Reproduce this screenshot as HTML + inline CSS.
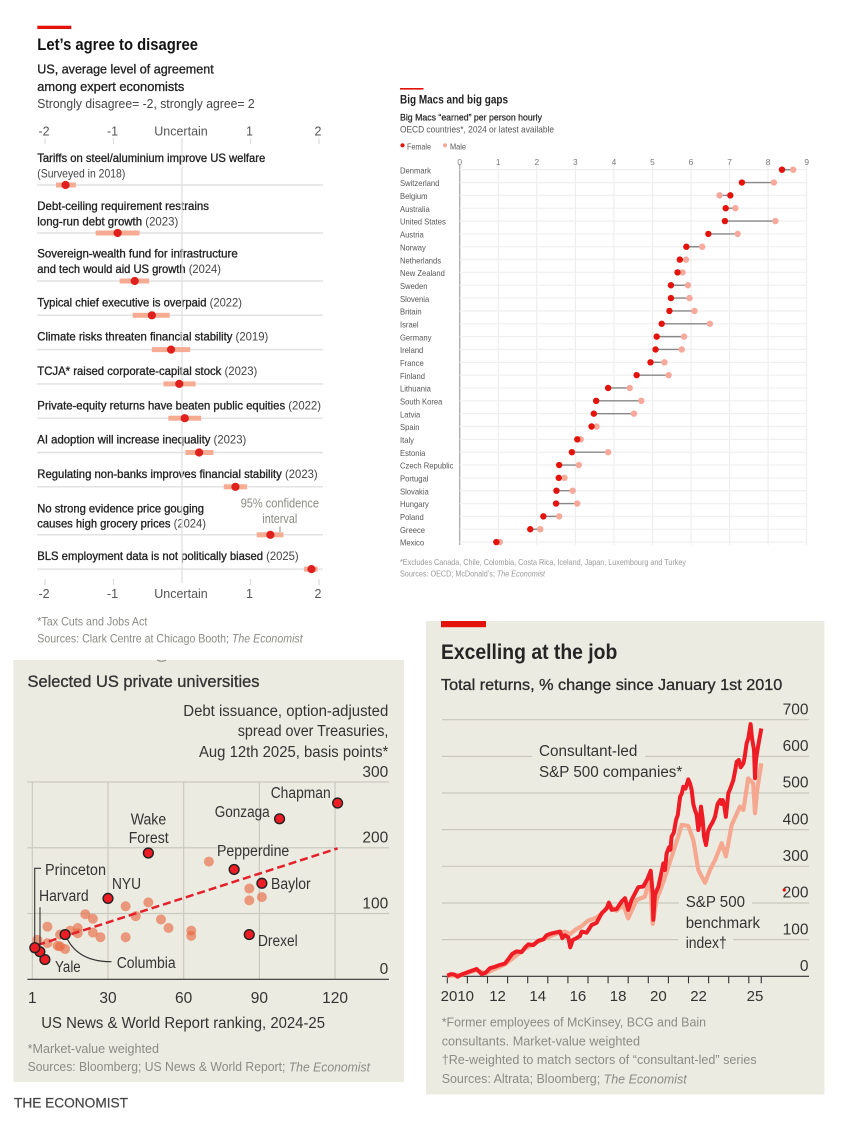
<!DOCTYPE html>
<html lang="en">
<head>
<meta charset="utf-8">
<title>Economist charts</title>
<style>
html,body{margin:0;padding:0;background:#fff;}
svg{display:block;position:absolute;left:0;top:0;}
text{font-family:"Liberation Sans",sans-serif;dominant-baseline:central;fill:#333;transform:translateY(.7px);}
.m{stroke:#222;stroke-width:.32px;fill:#222;}
.y{fill:#444;stroke:none;}
.r{font-size:12px;}
.g{fill:#8b8b85;}
.h{fill:#333;font-size:15.5px;}
</style>
</head>
<body>
<svg id="root" width="850" height="1122" viewBox="0 0 850 1122">
<rect x="0" y="0" width="850" height="1122" fill="#ffffff"/>

<!-- CHART 1 -->
<g id="agree">
<rect x="37.3" y="25.7" width="34" height="3.3" fill="#e3120b"/>
<text x="37.3" y="44.3" font-size="16.5" font-weight="bold" style="fill:#121212" textLength="160.7" lengthAdjust="spacingAndGlyphs">Let’s agree to disagree</text>
<text class="m" x="37.3" y="68.3" font-size="13" textLength="176.4" lengthAdjust="spacingAndGlyphs">US, average level of agreement</text>
<text class="m" x="37.3" y="86" font-size="13" textLength="147" lengthAdjust="spacingAndGlyphs">among expert economists</text>
<text x="37.3" y="103" font-size="13" textLength="217.4" lengthAdjust="spacingAndGlyphs" style="fill:#444">Strongly disagree= -2, strongly agree= 2</text>

<text class="r m" x="37.3" y="157.3" textLength="228" lengthAdjust="spacingAndGlyphs">Tariffs on steel/aluminium improve US welfare</text>
<text class="r y" x="37.3" y="172.7" textLength="88" lengthAdjust="spacingAndGlyphs">(Surveyed in 2018)</text>
<text class="r m" x="37.3" y="205.3" textLength="171.7" lengthAdjust="spacingAndGlyphs">Debt-ceiling requirement restrains</text>
<text class="r" x="37.3" y="220.7" textLength="141" lengthAdjust="spacingAndGlyphs"><tspan class="m">long-run debt growth</tspan><tspan class="y"> (2023)</tspan></text>
<text class="r m" x="37.3" y="253" textLength="200.4" lengthAdjust="spacingAndGlyphs">Sovereign-wealth fund for infrastructure</text>
<text class="r" x="37.3" y="268.3" textLength="183.7" lengthAdjust="spacingAndGlyphs"><tspan class="m">and tech would aid US growth</tspan><tspan class="y"> (2024)</tspan></text>
<text class="r" x="37.3" y="301.7" textLength="204.7" lengthAdjust="spacingAndGlyphs"><tspan class="m">Typical chief executive is overpaid</tspan><tspan class="y"> (2022)</tspan></text>
<text class="r" x="37.3" y="336" textLength="231" lengthAdjust="spacingAndGlyphs"><tspan class="m">Climate risks threaten financial stability</tspan><tspan class="y"> (2019)</tspan></text>
<text class="r" x="37.3" y="370.3" textLength="220" lengthAdjust="spacingAndGlyphs"><tspan class="m">TCJA* raised corporate-capital stock</tspan><tspan class="y"> (2023)</tspan></text>
<text class="r" x="37.3" y="404.7" textLength="283.7" lengthAdjust="spacingAndGlyphs"><tspan class="m">Private-equity returns have beaten public equities</tspan><tspan class="y"> (2022)</tspan></text>
<text class="r" x="37.3" y="439" textLength="209" lengthAdjust="spacingAndGlyphs"><tspan class="m">AI adoption will increase inequality</tspan><tspan class="y"> (2023)</tspan></text>
<text class="r" x="37.3" y="473.3" textLength="280.4" lengthAdjust="spacingAndGlyphs"><tspan class="m">Regulating non-banks improves financial stability</tspan><tspan class="y"> (2023)</tspan></text>
<text class="r m" x="37.3" y="507.7" textLength="166.7" lengthAdjust="spacingAndGlyphs">No strong evidence price gouging</text>
<text class="r" x="37.3" y="523" textLength="168.7" lengthAdjust="spacingAndGlyphs"><tspan class="m">causes high grocery prices</tspan><tspan class="y"> (2024)</tspan></text>
<text class="r" x="37.3" y="555.3" textLength="261.4" lengthAdjust="spacingAndGlyphs"><tspan class="m">BLS employment data is not politically biased</tspan><tspan class="y"> (2025)</tspan></text>

<text class="g" x="240.7" y="502.7" font-size="12.5" textLength="78.3" lengthAdjust="spacingAndGlyphs">95% confidence</text>
<text class="g" x="262.3" y="518.3" font-size="12.5" textLength="35" lengthAdjust="spacingAndGlyphs">interval</text>
<line x1="280" y1="526.5" x2="280" y2="532" stroke="#8b8b85" stroke-width="1"/>

<text class="g" x="37.3" y="621" font-size="12" textLength="110" lengthAdjust="spacingAndGlyphs">*Tax Cuts and Jobs Act</text>
<text class="g" x="37.3" y="637.7" font-size="12" textLength="265.4" lengthAdjust="spacingAndGlyphs">Sources: Clark Centre at Chicago Booth; <tspan font-style="italic">The Economist</tspan></text>
</g>

<!-- CHART 2 -->
<g id="macs">
<rect x="400" y="88" width="23.5" height="1.6" fill="#e3120b"/>
<text x="400" y="99.7" font-size="11.5" font-weight="bold" style="fill:#222" textLength="108" lengthAdjust="spacingAndGlyphs">Big Macs and big gaps</text>
<text class="m" x="400" y="117" font-size="8.8" textLength="142" lengthAdjust="spacingAndGlyphs" style="stroke-width:.2px">Big Macs “earned” per person hourly</text>
<text x="400" y="129" font-size="8.8" textLength="154" lengthAdjust="spacingAndGlyphs" style="fill:#555">OECD countries*, 2024 or latest available</text>
<circle cx="402.5" cy="145.3" r="2.1" fill="#e3120b"/>
<text x="407" y="146" font-size="8.4" textLength="24" lengthAdjust="spacingAndGlyphs" style="fill:#555">Female</text>
<circle cx="445" cy="145.3" r="2.1" fill="#f7a99b"/>
<text x="450" y="146" font-size="8.4" textLength="16" lengthAdjust="spacingAndGlyphs" style="fill:#555">Male</text>
<text x="400" y="561.3" font-size="8.4" textLength="286" lengthAdjust="spacingAndGlyphs" style="fill:#999">*Excludes Canada, Chile, Colombia, Costa Rica, Iceland, Japan, Luxembourg and Turkey</text>
<text x="400" y="573" font-size="8.4" textLength="145" lengthAdjust="spacingAndGlyphs" style="fill:#999">Sources: OECD; McDonald’s; <tspan font-style="italic">The Economist</tspan></text>
</g>

<!-- CHART 3 -->
<rect x="13.3" y="660" width="390.7" height="422" fill="#ecebe2"/>
<path d="M157 660 Q161.5 662.4 166 660" fill="none" stroke="#8a8a8a" stroke-width="1"/>
<g id="uni">
<text x="27.5" y="681" font-size="17" class="m" textLength="232" lengthAdjust="spacingAndGlyphs" style="stroke:#333;fill:#333">Selected US private universities</text>
<text x="183.3" y="710.7" class="h" textLength="205" lengthAdjust="spacingAndGlyphs">Debt issuance, option-adjusted</text>
<text x="237.7" y="731" class="h" textLength="150.7" lengthAdjust="spacingAndGlyphs">spread over Treasuries,</text>
<text x="199" y="752" class="h" textLength="189.3" lengthAdjust="spacingAndGlyphs">Aug 12th 2025, basis points*</text>
<text x="41.3" y="1023" class="h" textLength="283.7" lengthAdjust="spacingAndGlyphs">US News &amp; World Report ranking, 2024-25</text>
<text class="g" x="27.6" y="1047.7" font-size="13" textLength="131.4" lengthAdjust="spacingAndGlyphs">*Market-value weighted</text>
<text class="g" x="27.6" y="1065.7" font-size="13" textLength="342.4" lengthAdjust="spacingAndGlyphs">Sources: Bloomberg; US News &amp; World Report; <tspan font-style="italic">The Economist</tspan></text>
</g>
<g id="uni-labels">
<path d="M34.7 947 V868.3 H41" fill="none" stroke="#333" stroke-width="1.1"/>
<path d="M40 951 V907.3" fill="none" stroke="#333" stroke-width="1.1"/>
<path d="M65 934 Q76 962 111.5 961.7" fill="none" stroke="#333" stroke-width="1.1"/>
<text class="h" x="270.7" y="793" textLength="60" lengthAdjust="spacingAndGlyphs">Chapman</text>
<text class="h" x="214.7" y="812" textLength="55" lengthAdjust="spacingAndGlyphs">Gonzaga</text>
<text class="h" x="130.7" y="819.3" textLength="35.5" lengthAdjust="spacingAndGlyphs">Wake</text>
<text class="h" x="128.7" y="838" textLength="40" lengthAdjust="spacingAndGlyphs">Forest</text>
<text class="h" x="217" y="850.7" textLength="72.3" lengthAdjust="spacingAndGlyphs">Pepperdine</text>
<text class="h" x="45" y="870" textLength="61" lengthAdjust="spacingAndGlyphs">Princeton</text>
<text class="h" x="112" y="884" textLength="29" lengthAdjust="spacingAndGlyphs">NYU</text>
<text class="h" x="39" y="896" textLength="49.7" lengthAdjust="spacingAndGlyphs">Harvard</text>
<text class="h" x="271" y="883.7" textLength="39.7" lengthAdjust="spacingAndGlyphs">Baylor</text>
<text class="h" x="258" y="940.7" textLength="39.7" lengthAdjust="spacingAndGlyphs">Drexel</text>
<text class="h" x="116.7" y="962.7" textLength="59" lengthAdjust="spacingAndGlyphs">Columbia</text>
<text class="h" x="55" y="967" textLength="25.7" lengthAdjust="spacingAndGlyphs">Yale</text>
</g>
<text x="14" y="1102" font-size="14" textLength="114" lengthAdjust="spacingAndGlyphs" class="m" style="stroke:#444;fill:#444;stroke-width:.2px">THE ECONOMIST</text>

<!-- CHART 4 -->
<rect x="426" y="621" width="398.5" height="473.5" fill="#ecebe2"/>
<rect x="441" y="621" width="45" height="6.2" fill="#e3120b"/>
<text x="441" y="651.7" font-size="21" font-weight="bold" style="fill:#252525" textLength="176.3" lengthAdjust="spacingAndGlyphs">Excelling at the job</text>
<text x="441" y="684.7" font-size="16" class="m" style="stroke:#2b2b2b;fill:#2b2b2b" textLength="341.3" lengthAdjust="spacingAndGlyphs">Total returns, % change since January 1st 2010</text>
<g id="ret"></g>
<g>
<rect x="531.7" y="753" width="113.3" height="7" fill="#ecebe2"/>
<rect x="679" y="899" width="73" height="7" fill="#ecebe2"/>
<rect x="678" y="936" width="55" height="7" fill="#ecebe2"/>
</g>
<g id="ret-lines"></g>
<g>
<text class="h" x="539" y="751" textLength="98.3" lengthAdjust="spacingAndGlyphs">Consultant-led</text>
<text class="h" x="539" y="772" textLength="143.3" lengthAdjust="spacingAndGlyphs">S&amp;P 500 companies*</text>
<text class="h" x="685.7" y="901.7" textLength="59.3" lengthAdjust="spacingAndGlyphs">S&amp;P 500</text>
<text class="h" x="685.7" y="922.7" textLength="74.3" lengthAdjust="spacingAndGlyphs">benchmark</text>
<text class="h" x="685.7" y="943" textLength="41" lengthAdjust="spacingAndGlyphs">index†</text>
<text class="g" x="441.7" y="1021.3" font-size="13" textLength="264.3" lengthAdjust="spacingAndGlyphs">*Former employees of McKinsey, BCG and Bain</text>
<text class="g" x="441.7" y="1040.3" font-size="13" textLength="198.3" lengthAdjust="spacingAndGlyphs">consultants. Market-value weighted</text>
<text class="g" x="441.7" y="1059" font-size="13" textLength="315" lengthAdjust="spacingAndGlyphs">†Re-weighted to match sectors of “consultant-led” series</text>
<text class="g" x="441.7" y="1077.7" font-size="13" textLength="245" lengthAdjust="spacingAndGlyphs">Sources: Altrata; Bloomberg; <tspan font-style="italic">The Economist</tspan></text>
</g>
</svg>

<script>
/* ---------- Chart 1 data ---------- */
const agreeMean=[-1.70,-0.94,-0.69,-0.44,-0.16,-0.04,0.04,0.25,0.78,1.29,1.89];
const agreeLow=[-1.84,-1.26,-0.91,-0.72,-0.44,-0.27,-0.20,0.05,0.61,1.09,1.78];
const agreeHigh=[-1.55,-0.62,-0.48,-0.18,0.12,0.20,0.28,0.46,0.95,1.48,1.98];
const agreeRowLineCounts=[2,2,2,1,1,1,1,1,1,2,1];
const agreeTickValues=[-2,-1,0,1,2];
const agreeTickLabels=['-2','-1','Uncertain','1','2'];

/* ---------- Chart 2 data ---------- */
const countries=['Denmark','Switzerland','Belgium','Australia','United States','Austria','Norway','Netherlands','New Zealand','Sweden','Slovenia','Britain','Israel','Germany','Ireland','France','Finland','Lithuania','South Korea','Latvia','Spain','Italy','Estonia','Czech Republic','Portugal','Slovakia','Hungary','Poland','Greece','Mexico'];
const femaleValues=[8.36,7.32,7.02,6.90,6.88,6.45,5.88,5.71,5.65,5.48,5.48,5.44,5.24,5.11,5.08,4.95,4.59,3.85,3.54,3.48,3.42,3.05,2.91,2.58,2.57,2.51,2.50,2.17,1.83,0.95];
const maleValues=[8.65,8.15,6.74,7.15,8.19,7.21,6.29,5.87,5.78,5.92,5.96,6.09,6.49,5.82,5.76,5.31,5.42,4.41,4.71,4.52,3.55,3.14,3.85,3.09,2.72,2.93,3.05,2.58,2.09,1.04];
const macTickValues=[0,1,2,3,4,5,6,7,8,9];

/* ---------- Chart 3 data ---------- */
const namedUniversities=['Chapman','Gonzaga','Wake Forest','Pepperdine','Baylor','NYU','Drexel','Columbia','Yale','Harvard','Princeton'];
const namedRanks=[121,98,46,80,91,30,86,13,5,3,1];
const namedSpreads=[268,244,192,167,146,123,68,68,30,42,48];
const otherRanks=[70,86,86,91,46,37,41,21,24,51,54,63,63,37,27,24,18,18,15,6,11,6,2,10,11,13];
const otherSpreads=[179,138,120,125,117,111,96,99,92,91,78,74,66,64,64,71,78,70,74,80,68,55,60,51,50,46];
const trendRanks=[2,121];
const trendSpreads=[52,199];
const uniXTickValues=[0,30,60,90,120];
const uniXTickLabels=['1','30','60','90','120'];
const uniYTickValues=[0,100,200,300];

/* ---------- Chart 4 data ---------- */
const consultantYears=[2010,2010.18,2010.35,2010.51,2010.71,2010.96,2011.21,2011.46,2011.58,2011.71,2011.91,2012.12,2012.37,2012.62,2012.87,2013.03,2013.23,2013.45,2013.7,2013.86,2014.03,2014.28,2014.53,2014.78,2014.94,2015.19,2015.44,2015.61,2015.72,2015.85,2016.02,2016.12,2016.24,2016.43,2016.6,2016.68,2016.93,2017.18,2017.43,2017.68,2017.93,2018.04,2018.18,2018.42,2018.67,2018.84,2019,2019.17,2019.34,2019.5,2019.75,2019.97,2020.12,2020.22,2020.25,2020.33,2020.5,2020.66,2020.75,2020.83,2020.91,2021.03,2021.1,2021.16,2021.27,2021.38,2021.47,2021.58,2021.66,2021.74,2021.85,2021.99,2022.08,2022.16,2022.24,2022.32,2022.41,2022.49,2022.55,2022.62,2022.7,2022.77,2022.87,2022.97,2023.07,2023.2,2023.32,2023.45,2023.57,2023.63,2023.7,2023.78,2023.86,2023.98,2024.1,2024.23,2024.32,2024.4,2024.5,2024.6,2024.73,2024.8,2024.89,2024.98,2025.09,2025.16,2025.26,2025.31,2025.36,2025.42,2025.5,2025.62];
const consultantReturns=[2,6,5,-1,5,10,15,20,13,6,10,22,26,31,35,46,61,68,66,78,87,85,97,101,112,117,120,122,104,112,106,79,99,104,110,122,119,140,146,172,185,201,181,183,204,213,181,208,226,243,245,267,288,226,154,222,245,285,308,290,335,352,345,381,392,426,440,490,498,517,512,537,525,508,470,454,440,399,420,463,430,381,358,395,408,420,435,470,481,470,481,465,435,499,515,535,560,585,590,570,581,600,635,650,688,650,617,540,590,613,640,676];
const benchmarkYears=[2010,2010.71,2011.46,2011.91,2012.87,2013.86,2014.53,2015.44,2015.85,2016.12,2016.35,2016.68,2017.01,2017.34,2017.68,2018.04,2018.42,2018.75,2019,2019.42,2019.83,2020.08,2020.22,2020.41,2020.75,2021.16,2021.49,2021.66,2021.99,2022.24,2022.49,2022.82,2023.07,2023.32,2023.65,2023.86,2024.15,2024.56,2024.73,2024.97,2025.22,2025.31,2025.42,2025.62];
const benchmarkReturns=[1,4,17,8,33,75,95,117,122,115,126,137,152,158,170,195,179,195,158,208,217,272,143,208,258,326,381,413,410,372,290,255,290,317,363,327,413,463,454,540,526,445,508,581];
const returnYTicks=[0,100,200,300,400,500,600,700];
const returnXTickYears=[2010,2011,2012,2013,2014,2015,2016,2017,2018,2019,2020,2021,2022,2023,2024,2025,2025.62];
const returnXTickLabels=['2010','','12','','14','','16','','18','','20','','22','','','25',''];

/* ---------- helpers ---------- */
const root=document.getElementById('root');
function mk(parent,tag,attrs){
  const el=document.createElementNS(root.namespaceURI,tag);
  for(const k in attrs){el.setAttribute(k,attrs[k]);}
  parent.appendChild(el);
  return el;
}

/* ---------- Chart 1 ---------- */
(function(){
  const g=document.getElementById('agree');
  const xA=v=>182+v*68.5;
  const rowYs=[];
  let y=137;
  agreeRowLineCounts.forEach(n=>{y+=(n===2?48:34.3);rowYs.push(y);});
  const grid=mk(g,'line',{x1:xA(0),x2:xA(0),y1:138,y2:583,stroke:'#e0e0e0','stroke-width':1.3});
  
  
  agreeTickValues.forEach((v,i)=>{
    [[131,138.3,144],[593.3,579,585]].forEach(p=>{
      const t=mk(g,'text',{x:xA(v)-1,y:p[0],'font-size':12.5,'text-anchor':'middle',style:'fill:#555'});
      t.textContent=agreeTickLabels[i];
      
      
      if(v!==0){
        const k=mk(g,'line',{x1:xA(v),x2:xA(v),y1:p[1],y2:p[2],stroke:'#dcdcdc','stroke-width':1.2});
        
        
      }
    });
  });
  agreeMean.forEach((m,i)=>{
    const l=mk(g,'line',{x1:37,x2:323,y1:rowYs[i],y2:rowYs[i],stroke:'#e0e0e0','stroke-width':1.4});
    
    
    const c=mk(g,'rect',{x:xA(agreeLow[i]),y:rowYs[i]-2.5,width:xA(agreeHigh[i])-xA(agreeLow[i]),height:5,fill:'#f6ab93'});
    
    
    const d=mk(g,'circle',{cx:xA(m),cy:rowYs[i],r:4.1,fill:'#e0201c'});
    
    
  });
})();

/* ---------- Chart 2 ---------- */
(function(){
  const g=document.getElementById('macs');
  const xM=v=>459.7+v*38.55;
  const yM=i=>169.7+i*12.84;
  macTickValues.forEach(v=>{
    const l=mk(g,'line',{x1:xM(v),x2:xM(v),y1:165,y2:545,stroke:v===0?'#a9a9a9':'#ebebeb','stroke-width':v===0?1.3:1});
    
    
    const t=mk(g,'text',{x:xM(v),y:161.2,'font-size':8.4,'text-anchor':'middle',style:'fill:#777'});
    t.textContent=String(v);
    
    
  });
  countries.forEach((name,i)=>{
    const y=yM(i);
    const h=mk(g,'line',{x1:xM(0),x2:xM(9),y1:y,y2:y,stroke:'#f0f0f0','stroke-width':1.3});
    
    
    const t=mk(g,'text',{x:400,y:y,'font-size':8.4,style:'fill:#555'});
    t.textContent=name;
    
    
    t.setAttribute('textLength',(t.getComputedTextLength()*0.91).toFixed(1));
    t.setAttribute('lengthAdjust','spacingAndGlyphs');
    const c=mk(g,'line',{x1:xM(femaleValues[i]),x2:xM(maleValues[i]),y1:y,y2:y,stroke:'#888','stroke-width':1.4});
    
    
    const m=mk(g,'circle',{cx:xM(maleValues[i]),cy:y,r:3.2,fill:'#f7a99b'});
    
    
    const f=mk(g,'circle',{cx:xM(femaleValues[i]),cy:y,r:3.2,fill:'#e3120b'});
    
    
  });
})();

/* ---------- Chart 3 ---------- */
(function(){
  const g=document.getElementById('uni');
  const xU=v=>32.3+v*2.523;
  const yU=v=>979.3-v*0.6577;
  uniXTickValues.forEach((v,i)=>{
    const l=mk(g,'line',{x1:xU(v),x2:xU(v),y1:yU(300),y2:yU(0),stroke:'#cbcabf','stroke-width':1.2});
    
    
    const t=mk(g,'text',{x:xU(v),y:998,'font-size':15.5,'text-anchor':'middle'});
    t.textContent=uniXTickLabels[i];
    
    
  });
  uniYTickValues.forEach(v=>{
    const l=mk(g,'line',{x1:27.3,x2:389,y1:yU(v),y2:yU(v),stroke:v===0?'#333':'#cbcabf','stroke-width':1.2});
    
    
    const t=mk(g,'text',{x:388.3,y:yU(v)-10.3,'font-size':15.5,'text-anchor':'end'});
    t.textContent=String(v);
    
    
  });
  otherRanks.forEach((r,i)=>{
    const c=mk(g,'circle',{cx:xU(r),cy:yU(otherSpreads[i]),r:5,fill:'#e9653d','fill-opacity':0.62});
    
    
  });
  const tr=mk(g,'line',{x1:xU(trendRanks[0]),y1:yU(trendSpreads[0]),x2:xU(trendRanks[1]),y2:yU(trendSpreads[1]),stroke:'#e4202a','stroke-width':2.5,'stroke-dasharray':'8 4'});
  
  
  const lg=document.getElementById('uni-labels');
  namedRanks.forEach((r,i)=>{
    const c=mk(lg,'circle',{cx:xU(r),cy:yU(namedSpreads[i]),r:4.9,fill:'#ee1c25',stroke:'#222','stroke-width':1.4});
    
    
    const tip=mk(c,'title',{});
    tip.textContent=namedUniversities[i];
    
    
  });
})();

/* ---------- Chart 4 ---------- */
(function(){
  const g=document.getElementById('ret');
  const lg=document.getElementById('ret-lines');
  const xR=v=>447.3+(v-2010)*20.1;
  const yR=v=>976.3-v*0.3666;
  returnYTicks.forEach(v=>{
    const l=mk(g,'line',{x1:442,x2:809,y1:yR(v),y2:yR(v),stroke:v===0?'#333':'#c9c8bd','stroke-width':1.2});
    
    
    const t=mk(g,'text',{x:808.5,y:yR(v)-10.5,'font-size':15.5,'text-anchor':'end'});
    t.textContent=String(v);
    
    
  });
  returnXTickYears.forEach((yr,i)=>{
    const k=mk(g,'line',{x1:xR(yr),x2:xR(yr),y1:yR(0),y2:yR(0)+7,stroke:'#333','stroke-width':1.1});
    
    
    if(returnXTickLabels[i]){
      const t=mk(g,'text',{x:(xR(yr)+xR(returnXTickYears[i+1]))/2,y:995.7,'font-size':15,'text-anchor':'middle'});
      t.textContent=returnXTickLabels[i];
      
      
    }
  });
  const toPts=(xs,ys)=>xs.map((x,i)=>xR(x).toFixed(1)+','+yR(ys[i]).toFixed(1)).join(' ');
  const b=mk(lg,'polyline',{points:toPts(benchmarkYears,benchmarkReturns),fill:'none',stroke:'#f5a88f','stroke-width':4.2,'stroke-linejoin':'round'});
  
  
  const c=mk(lg,'polyline',{points:toPts(consultantYears,consultantReturns),fill:'none',stroke:'#ee1c25','stroke-width':4,'stroke-linejoin':'round'});
  
  
  const s=mk(lg,'circle',{cx:784.3,cy:890,r:1.6,fill:'#e3120b'});
  
  
})();
</script>
</body>
</html>
